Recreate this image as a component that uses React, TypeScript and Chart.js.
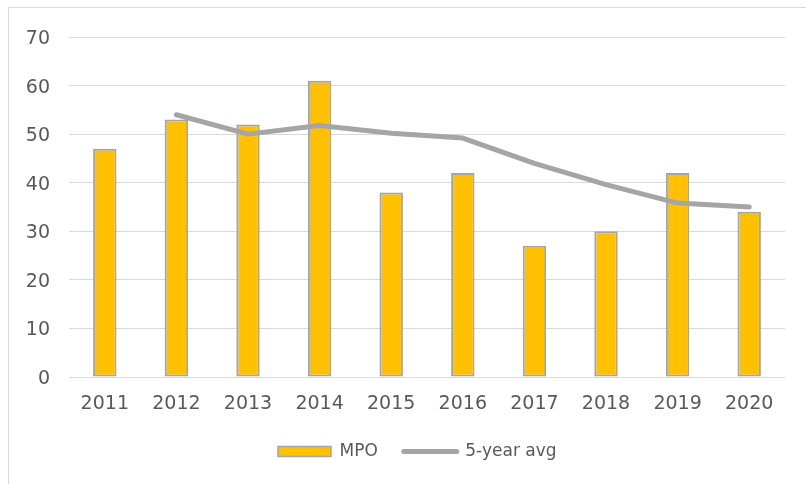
import React, { useEffect, useRef } from "react";
import { Chart, registerables } from "chart.js";

Chart.register(...registerables);

const years = ["2011", "2012", "2013", "2014", "2015", "2016", "2017", "2018", "2019", "2020"];
const mpoValues = [47, 53, 52, 61, 38, 42, 27, 30, 42, 34];
const avgValues = [null, 54, 50, 51.8, 50.2, 49.2, 44, 39.6, 35.8, 35];
const yTicks = [0, 10, 20, 30, 40, 50, 60, 70];

const FONT = "'DejaVu Sans', sans-serif";
const TEXT = "#595959";

const legendPlacer = {
  id: "legendPlacer",
  afterLayout(chart: any) {
    const lg = chart.legend;
    if (!lg) return;
    lg.left = 252;
    lg.top = 417;
  },
};

export default function App() {
  const ref = useRef<HTMLCanvasElement | null>(null);

  useEffect(() => {
    if (!ref.current) return;
    const chart = new Chart(ref.current, {
      data: {
        labels: years,
        datasets: [
          {
            type: "bar",
            label: "MPO",
            data: mpoValues,
            backgroundColor: "#FFC000",
            borderColor: "#A5A5A5",
            borderWidth: 2,
            borderSkipped: false,
            barPercentage: 0.327,
            categoryPercentage: 1,
            order: 2,
          },
          {
            type: "line",
            label: "5-year avg",
            data: avgValues as any,
            borderColor: "#A5A5A5",
            backgroundColor: "#A5A5A5",
            borderWidth: 5,
            borderCapStyle: "round",
            borderJoinStyle: "round",
            pointRadius: 0,
            tension: 0,
            order: 1,
          },
        ],
      } as any,
      options: {
        animation: false,
        responsive: false,
        maintainAspectRatio: false,
        layout: { padding: { top: 37, right: 21, left: 0, bottom: 23 } },
        font: { family: FONT, size: 18 },
        scales: {
          x: {
            grid: { display: false },
            border: { display: false },
            ticks: { color: TEXT, font: { family: FONT, size: 19 }, padding: 8, maxRotation: 0 },
            afterFit: (s: any) => {
              s.height = 44;
            },
          },
          y: {
            min: 0,
            max: 70,
            afterBuildTicks: (s: any) => {
              s.ticks = yTicks.map((v) => ({ value: v }));
            },
            grid: { color: "#D9D9D9", lineWidth: 1, drawTicks: false },
            border: { display: false },
            ticks: { color: TEXT, font: { family: FONT, size: 19 }, padding: 19, labelOffset: 2 },
            afterFit: (s: any) => {
              s.width = 69;
            },
          },
        },
        plugins: {
          tooltip: { enabled: false },
          legend: {
            position: "bottom",
            align: "start",
            maxHeight: 40,
            labels: {
              color: TEXT,
              font: { family: FONT, size: 17 },
              usePointStyle: true,
              pointStyleWidth: 53,
              boxHeight: 10,
              padding: 26,
              generateLabels: (c: any) =>
                c.data.datasets.map((ds: any, i: number) =>
                  i === 0
                    ? {
                        text: ds.label,
                        fillStyle: "#FFC000",
                        strokeStyle: "#A5A5A5",
                        lineWidth: 1.5,
                        pointStyle: "rect",
                        datasetIndex: i,
                        fontColor: TEXT,
                        hidden: false,
                      }
                    : {
                        text: ds.label,
                        fillStyle: "#A5A5A5",
                        strokeStyle: "#A5A5A5",
                        lineWidth: 5,
                        lineCap: "round",
                        pointStyle: "line",
                        datasetIndex: i,
                        fontColor: TEXT,
                        hidden: false,
                      }
                ),
            },
          },
        },
      } as any,
      plugins: [legendPlacer],
    });
    return () => chart.destroy();
  }, []);

  return (
    <div style={{ position: "fixed", left: 0, top: 0, width: 806, height: 484, overflow: "hidden", background: "#fff" }}>
      <div
        style={{
          position: "absolute",
          left: 8,
          top: 7,
          width: 1000,
          height: 1000,
          border: "1px solid #D9D9D9",
          boxSizing: "border-box",
        }}
      />
      <canvas ref={ref} width={806} height={484} style={{ position: "absolute", left: 0, top: 0, width: 806, height: 484 }} />
    </div>
  );
}
